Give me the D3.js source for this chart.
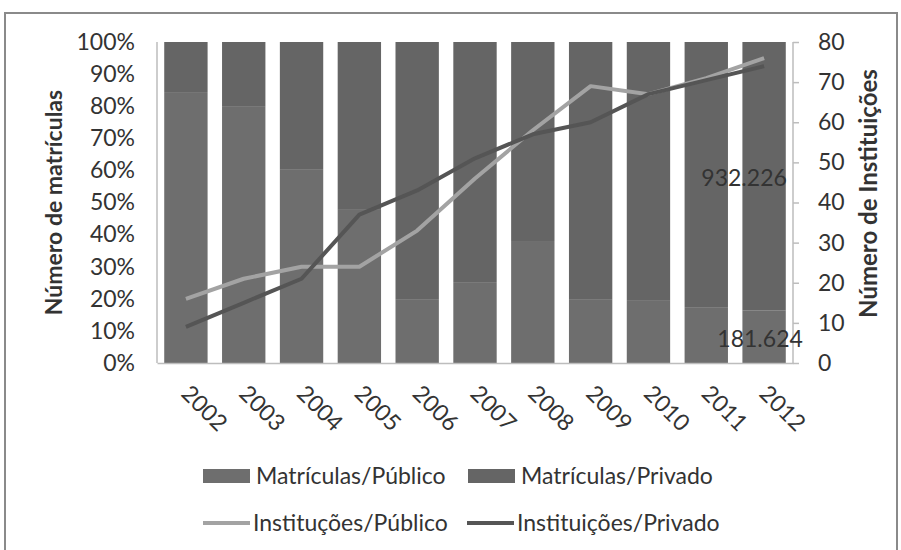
<!DOCTYPE html>
<html>
<head>
<meta charset="utf-8">
<script src="https://cdn.jsdelivr.net/npm/d3@7"></script>
<style>
  html, body { margin: 0; padding: 0; background: #fff; }
  svg { display: block; }
  text { font-family: Lato, "Open Sans", sans-serif; fill: #333; }
</style>
</head>
<body>
<svg id="chart" width="901" height="550"></svg>
<script>
// Years on the category axis
const years = ["2002","2003","2004","2005","2006","2007","2008","2009","2010","2011","2012"];

// Share of enrolments (%) in public and private institutions
const matriculasPublico = [84.4, 79.8, 60.4, 47.7, 19.9, 25.2, 38.0, 19.9, 19.6, 17.4, 16.3];
const matriculasPrivado = [15.6, 20.2, 39.6, 52.3, 80.1, 74.8, 62.0, 80.1, 80.4, 82.6, 83.7];

// Number of institutions (right axis)
const instituicoesPublico = [16, 21, 24, 24, 33, 46, 58, 69, 67, 71, 76];
const instituicoesPrivado = [9, 15, 21, 37, 43, 51, 57, 60, 67, 70.5, 74];

// Enrolment labels printed on the last bar
const rotulos = [{ year: "2012", serie: "privado", text: "932.226", dx: -20 },
                 { year: "2012", serie: "publico", text: "181.624", dx: -4 }];

const leftTicks = [0, 10, 20, 30, 40, 50, 60, 70, 80, 90, 100];
const rightTicks = [0, 10, 20, 30, 40, 50, 60, 70, 80];

const svg = d3.select("#chart");
const fs = 23;

// outer frame
svg.append("rect")
  .attr("x", 5).attr("y", 13).attr("width", 892).attr("height", 545)
  .attr("fill", "none").attr("stroke", "#8a8a8a").attr("stroke-width", 2);

const plot = { left: 157, right: 793, top: 42, bottom: 363 };

const x = d3.scaleBand().domain(years)
  .range([plot.left, plot.right]).paddingInner(0.25).paddingOuter(0.125);
const yPct = d3.scaleLinear().domain([0, 100]).range([plot.bottom, plot.top]);
const yInst = d3.scaleLinear().domain([0, 80]).range([plot.bottom, plot.top]);

const colPublico = "#6e6e6e", colPrivado = "#656565";
const lineLight = "#a3a3a3", lineDark = "#555555";

// stacked 100% bars
const rows = years.map((yr, i) => ({ year: yr, publico: matriculasPublico[i], privado: matriculasPrivado[i] }));
const stack = d3.stack().keys(["publico", "privado"])(rows);
const colors = { publico: colPublico, privado: colPrivado };

svg.append("g").selectAll("g").data(stack).join("g")
  .attr("fill", d => colors[d.key])
  .selectAll("rect").data(d => d).join("rect")
  .attr("x", d => x(d.data.year))
  .attr("width", x.bandwidth())
  .attr("y", d => yPct(d[1]))
  .attr("height", d => yPct(d[0]) - yPct(d[1]));

// axes
const axisColor = "#bdbdbd";
const gl = svg.append("g").attr("transform", `translate(${plot.left},0)`)
  .call(d3.axisLeft(yPct).tickValues(leftTicks).tickSize(0).tickPadding(22).tickFormat(d => d + "%"));
const gr = svg.append("g").attr("transform", `translate(${plot.right},0)`)
  .call(d3.axisRight(yInst).tickValues(rightTicks).tickSize(6).tickPadding(19));
const gb = svg.append("g").attr("transform", `translate(0,${plot.bottom})`)
  .call(d3.axisBottom(x).tickSize(0).tickPadding(0));

[gl, gr, gb].forEach(g => {
  g.select(".domain").attr("stroke", axisColor).attr("stroke-width", 1.5);
  g.selectAll(".tick line").attr("stroke", axisColor).attr("stroke-width", 1.5);
  g.selectAll("text").attr("font-size", fs).attr("fill", "#333").attr("font-family", "Lato, 'Open Sans', sans-serif");
});
gl.select(".domain").attr("d", `M0,${plot.top}V${plot.bottom}`);
gr.select(".domain").attr("d", `M0,${plot.top}V${plot.bottom}`);

gb.selectAll(".tick text")
  .attr("text-anchor", "start")
  .attr("dy", 0)
  .attr("transform", "translate(-6,32) rotate(45)");

// institution lines
const line = d3.line()
  .x((d, i) => x(years[i]) + x.bandwidth() / 2)
  .y(d => yInst(d));

svg.append("path").datum(instituicoesPublico)
  .attr("d", line).attr("fill", "none")
  .attr("stroke", lineLight).attr("stroke-width", 4).attr("stroke-linejoin", "round");
svg.append("path").datum(instituicoesPrivado)
  .attr("d", line).attr("fill", "none")
  .attr("stroke", lineDark).attr("stroke-width", 4).attr("stroke-linejoin", "round");

// data labels on the last bar
const last = rows[rows.length - 1];
const segMid = {
  publico: yPct(last.publico / 2),
  privado: yPct(last.publico + last.privado / 2)
};
svg.append("g").selectAll("text").data(rotulos).join("text")
  .attr("x", d => x(d.year) + x.bandwidth() / 2 + d.dx)
  .attr("y", d => segMid[d.serie] + 2)
  .attr("dy", "0.35em")
  .attr("text-anchor", "middle")
  .attr("font-size", fs)
  .text(d => d.text);

// axis titles
svg.append("text")
  .attr("transform", `translate(62,${(plot.top + plot.bottom) / 2}) rotate(-90)`)
  .attr("text-anchor", "middle").attr("font-weight", "bold").attr("font-size", 23)
  .text("Número de matrículas");
svg.append("text")
  .attr("transform", `translate(877,${(plot.top + plot.bottom) / 2 - 9}) rotate(-90)`)
  .attr("text-anchor", "middle").attr("font-weight", "bold").attr("font-size", 24)
  .text("Número de Instituições");

// legend
const legend = [
  { label: "Matrículas/Público", type: "rect", color: colPublico, x: 203, y: 476 },
  { label: "Matrículas/Privado", type: "rect", color: colPrivado, x: 468, y: 476 },
  { label: "Instituções/Público", type: "line", color: lineLight, x: 203, y: 523 },
  { label: "Instituições/Privado", type: "line", color: lineDark, x: 467, y: 523 }
];
const lg = svg.append("g").selectAll("g").data(legend).join("g")
  .attr("transform", d => `translate(${d.x},${d.y})`);
lg.filter(d => d.type === "rect").append("rect")
  .attr("x", 0).attr("y", -7).attr("width", 47).attr("height", 14)
  .attr("fill", d => d.color);
lg.filter(d => d.type === "line").append("line")
  .attr("x1", 0).attr("x2", 47).attr("y1", 0).attr("y2", 0)
  .attr("stroke", d => d.color).attr("stroke-width", 4);
lg.append("text")
  .attr("x", d => d.type === "rect" ? 53 : 50)
  .attr("y", 0).attr("dy", "0.35em")
  .attr("font-size", fs)
  .text(d => d.label);
</script>
</body>
</html>
